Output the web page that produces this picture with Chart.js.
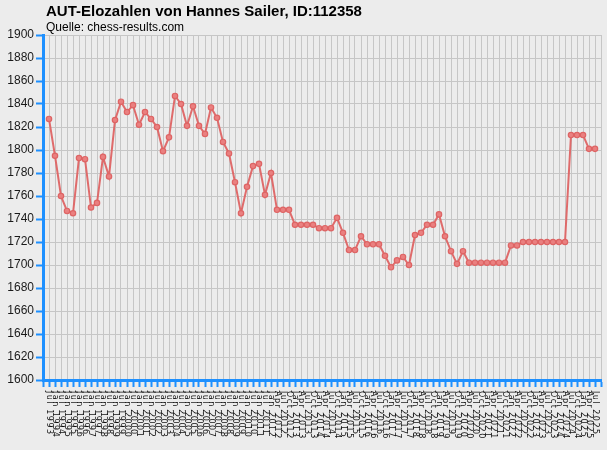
<!DOCTYPE html>
<html>
<head>
<meta charset="utf-8">
<script src="https://cdn.jsdelivr.net/npm/chart.js@4"></script>
<style>
  html, body { margin: 0; padding: 0; background: #ececec; }
  canvas { display: block; }
</style>
</head>
<body>
<canvas id="elo-chart" width="607" height="450"></canvas>
<script>
var titleText = 'AUT-Elozahlen von Hannes Sailer, ID:112358';
var subtitleText = 'Quelle: chess-results.com';

var dates = [
  'Jul 1993', 'Jan 1994', 'Jul 1994', 'Jan 1995', 'Jul 1995', 'Jan 1996', 'Jul 1996', 'Jan 1997',
  'Jul 1997', 'Jan 1998', 'Jul 1998', 'Jan 1999', 'Jul 1999', 'Jan 2000', 'Jul 2000', 'Jan 2001',
  'Jul 2001', 'Jan 2002', 'Jul 2002', 'Jan 2003', 'Jul 2003', 'Jan 2004', 'Jul 2004', 'Jan 2005',
  'Jul 2005', 'Jan 2006', 'Jul 2006', 'Jan 2007', 'Jul 2007', 'Jan 2008', 'Jul 2008', 'Jan 2009',
  'Jul 2009', 'Jan 2010', 'Jul 2010', 'Jan 2011', 'Jul 2011', 'Jan 2012',
  'Apr 2012', 'Jul 2012', 'Oct 2012',
  'Jan 2013', 'Apr 2013', 'Jul 2013', 'Oct 2013',
  'Jan 2014', 'Apr 2014', 'Jul 2014', 'Oct 2014',
  'Jan 2015', 'Apr 2015', 'Jul 2015', 'Oct 2015',
  'Jan 2016', 'Apr 2016', 'Jul 2016', 'Oct 2016',
  'Jan 2017', 'Apr 2017', 'Jul 2017', 'Oct 2017',
  'Jan 2018', 'Apr 2018', 'Jul 2018', 'Oct 2018',
  'Jan 2019', 'Apr 2019', 'Jul 2019', 'Oct 2019',
  'Jan 2020', 'Apr 2020', 'Jul 2020', 'Oct 2020',
  'Jan 2021', 'Apr 2021', 'Jul 2021', 'Oct 2021',
  'Jan 2022', 'Apr 2022', 'Jul 2022', 'Oct 2022',
  'Jan 2023', 'Apr 2023', 'Jul 2023', 'Oct 2023',
  'Jan 2024', 'Apr 2024', 'Jul 2024', 'Oct 2024',
  'Jan 2025', 'Apr 2025', 'Jul 2025'
];

var elo = [
  1827, 1795, 1760, 1747, 1745, 1793, 1792, 1750, 1754, 1794,
  1777, 1826, 1842, 1833, 1839, 1822, 1833, 1827, 1820, 1799,
  1811, 1847, 1840, 1821, 1838, 1821, 1814, 1837, 1828, 1807,
  1797, 1772, 1745, 1768, 1786, 1788, 1761, 1780, 1748, 1748,
  1748, 1735, 1735, 1735, 1735, 1732, 1732, 1732, 1741, 1728,
  1713, 1713, 1725, 1718, 1718, 1718, 1708, 1698, 1704, 1707,
  1700, 1726, 1728, 1735, 1735, 1744, 1725, 1712, 1701, 1712,
  1702, 1702, 1702, 1702, 1702, 1702, 1702, 1717, 1717, 1720,
  1720, 1720, 1720, 1720, 1720, 1720, 1720, 1813, 1813, 1813,
  1801, 1801
];

var yMin = 1600;
var yMax = 1900;
var yStep = 20;

var points = elo.map(function(v, i) { return {x: i, y: v}; });

var blue = '#1e90ff';

var canvas = document.getElementById('elo-chart');

new Chart(canvas, {
  type: 'line',
  data: {
    datasets: [{
      data: points,
      borderColor: 'rgba(222,100,100,0.95)',
      borderWidth: 2,
      pointRadius: 2.7,
      pointBackgroundColor: 'rgba(234,128,128,1)',
      pointBorderColor: 'rgba(222,100,100,1)',
      pointBorderWidth: 1.2,
      tension: 0
    }]
  },
  options: {
    responsive: false,
    animation: false,
    devicePixelRatio: 1,
    layout: { padding: { top: 35, right: 6, left: 0, bottom: 0 } },
    plugins: {
      legend: { display: false },
      tooltip: { enabled: false }
    },
    scales: {
      x: {
        type: 'linear',
        min: -1,
        max: dates.length,
        afterFit: function(scale) { scale.height = 70; },
        ticks: { display: false, stepSize: 1, autoSkip: false },
        grid: {
          color: '#c6c6c6',
          lineWidth: 1,
          tickColor: blue,
          tickWidth: 2,
          tickLength: 7
        },
        border: { color: blue, width: 3 }
      },
      y: {
        min: yMin,
        max: yMax,
        afterFit: function(scale) { scale.width = 43; },
        ticks: {
          stepSize: yStep,
          padding: 2,
          color: '#1a1a1a',
          font: { family: 'Liberation Sans, Arial, sans-serif', size: 12 },
          callback: function(value) { return String(value); }
        },
        grid: {
          color: '#c6c6c6',
          lineWidth: 1,
          tickColor: blue,
          tickWidth: 2,
          tickLength: 7
        },
        border: { color: blue, width: 3 }
      }
    }
  },
  plugins: [{
    afterDraw: function(chart) {
      var ctx = chart.ctx;
      var area = chart.chartArea;
      var xs = chart.scales.x;
      ctx.save();
      ctx.fillStyle = '#000';
      ctx.textAlign = 'left';
      ctx.textBaseline = 'alphabetic';
      ctx.font = 'bold 15px "Liberation Sans", Arial, sans-serif';
      ctx.fillText(titleText, area.left + 3, 16);
      ctx.font = '12px "Liberation Sans", Arial, sans-serif';
      ctx.fillText(subtitleText, area.left + 3, 31);

      // date labels, rotated to read top-down like the original
      ctx.font = '8px "DejaVu Sans", sans-serif';
      ctx.letterSpacing = '1.5px';
      ctx.textBaseline = 'middle';
      ctx.fillStyle = '#111';
      dates.forEach(function(label, i) {
        var x = xs.getPixelForValue(i);
        ctx.save();
        ctx.translate(x, area.bottom + 11);
        ctx.rotate(Math.PI / 2);
        ctx.fillText(label, 0, 0);
        ctx.restore();
      });
      ctx.restore();
    }
  }]
});
</script>
</body>
</html>
